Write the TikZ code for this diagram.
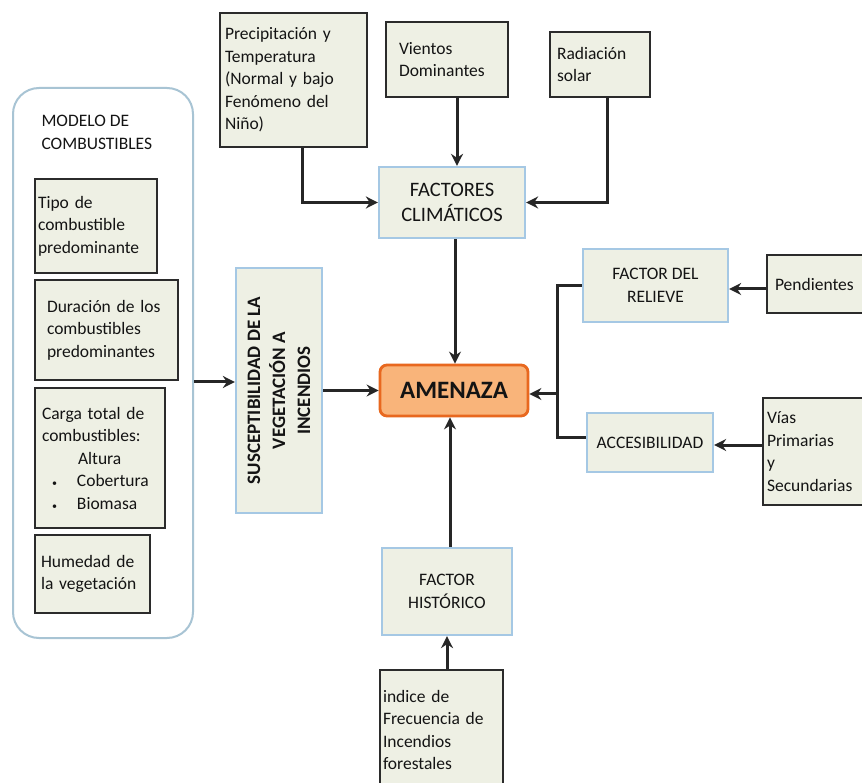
\documentclass[tikz,border=0pt]{standalone}
\usepackage{fontspec}
\setmainfont{Carlito}
\usetikzlibrary{arrows.meta}
\definecolor{leaffill}{HTML}{EEF0E4}
\definecolor{leafdraw}{HTML}{2B2B2B}
\definecolor{factdraw}{HTML}{A5C8E4}
\definecolor{amenfill}{HTML}{F9B47A}
\definecolor{amendraw}{HTML}{E8681F}
\definecolor{modeldraw}{HTML}{A8C4D4}
\definecolor{arrcol}{HTML}{262626}
\definecolor{txt}{HTML}{141414}
\tikzset{
  basefont/.style={font=\fontsize{17.5}{22.5}\selectfont, text=txt},
  leaf/.style={basefont, draw=leafdraw, fill=leaffill, line width=2.8pt, align=left, inner ysep=2pt},
  fact/.style={basefont, draw=factdraw, fill=leaffill, line width=2.2pt, align=center},
  arr/.style={draw=arrcol, line width=3pt, -{Stealth[length=12pt,width=12pt]}},
  conn/.style={draw=arrcol, line width=3pt}
}
\begin{document}
\begin{tikzpicture}[x=1pt,y=-1pt]
\useasboundingbox (0,0) rectangle (862,783);
\clip (0,0) rectangle (862,783);
\fill[white] (0,0) rectangle (862,783);

% Modelo de combustibles
\node[draw=modeldraw, line width=2pt, rounded corners=26pt, fill=white,
      minimum width=180, minimum height=550] (modelo) at (103,363) {};
\node[basefont, align=left, anchor=north west] (modtxt) at (38,112) {MODELO DE\\COMBUSTIBLES};
\node[leaf, inner xsep=3pt, text width=116, minimum height=94] (tipo) at (96,226)
  {Tipo de\\combustible\\predominante};
\node[leaf, inner xsep=12pt, text width=119, minimum height=100] (dur) at (106.5,330)
  {Duración de los\\combustibles\\predominantes};
\node[leaf, inner xsep=7pt, text width=116, minimum height=140] (carga) at (100,458)
  {Carga total de\\combustibles:\\\hspace*{36pt}Altura\\\hspace*{10pt}{\fontsize{10}{10}\selectfont•}\hspace*{20pt}Cobertura\\\hspace*{10pt}{\fontsize{10}{10}\selectfont•}\hspace*{20pt}Biomasa};
\node[leaf, inner xsep=6pt, text width=103, minimum height=78] (hum) at (92.5,574)
  {Humedad de\\la vegetación\\[6pt]};

% Susceptibilidad
\node[fact, minimum width=86, minimum height=245] (sus) at (279,390.5) {};
\node[font=\fontsize{19}{25}\selectfont\bfseries, text=txt, align=center, rotate=90] (sustxt) at (sus.center)
  {SUSCEPTIBILIDAD DE LA\\VEGETACIÓN A\\INCENDIOS};

% Amenaza
\node[draw=amendraw, fill=amenfill, line width=2.8pt, rounded corners=7pt,
      minimum width=148, minimum height=51, text=txt,
      font=\fontsize{25}{30}\selectfont\bfseries] (amen) at (454,390.5) {AMENAZA};

% Climatic factors
\node[leaf, inner xsep=5pt, text width=137, minimum height=134] (prec) at (293.5,80)
  {Precipitación y\\Temperatura\\(Normal y bajo\\Fenómeno del\\Niño)};
\node[leaf, inner xsep=13pt, text width=96, minimum height=75] (vien) at (447,59.5)
  {Vientos\\Dominantes};
\node[leaf, inner xsep=7pt, text width=86, minimum height=65] (rad) at (600,64.5)
  {Radiación\\solar\\[4pt]};
\node[fact, minimum width=146, minimum height=71, font=\fontsize{20.5}{25}\selectfont] (fact) at (452,202.5)
  {FACTORES\\CLIMÁTICOS};

% Relief / access
\node[fact, minimum width=145, minimum height=73] (rel) at (655.5,285.5)
  {FACTOR DEL\\RELIEVE};
\node[leaf, inner xsep=8pt, text width=97, minimum height=58] (pend) at (823.5,284)
  {Pendientes};
\node[fact, minimum width=126, minimum height=59] (acc) at (650,442.5)
  {ACCESIBILIDAD};
\node[leaf, inner xsep=4pt, text width=109, minimum height=107] (vias) at (821.5,451.5)
  {Vías\\Primarias\\y\\Secundarias};

% Historic
\node[fact, minimum width=130, minimum height=87] (hist) at (447,591.5)
  {FACTOR\\HISTÓRICO};
\node[leaf, inner xsep=3pt, text width=117, minimum height=120] (ind) at (441.5,730)
  {indice de\\Frecuencia de\\Incendios\\forestales};

% Connectors
\draw[arr] (modelo.east |- 0,382) -- (sus.west |- 0,382);
\draw[arr] (sus.east |- amen.west) -- (amen.west);
\draw[arr] ([xshift=8.5pt]prec.south) |- (fact.west);
\draw[arr] ([xshift=10pt]vien.south) -- ([xshift=10pt]vien.south |- fact.north);
\draw[arr] ([xshift=7pt]rad.south) |- (fact.east);
\draw[arr] ([xshift=3pt]fact.south) -- ([xshift=3pt]fact.south |- amen.north);
\coordinate (jx) at (557,394);
\draw[conn] (rel.west) -- (rel.west -| jx) -- ([yshift=5pt]acc.west -| jx) -- ([yshift=5pt]acc.west);
\draw[arr] (jx) -- (jx -| amen.east);
\draw[arr] (pend.west |- 0,289) -- (rel.east |- 0,289);
\draw[arr] (vias.west |- 0,445) -- (acc.east |- 0,445);
\draw[arr] ([xshift=3pt]hist.north) -- ([xshift=3pt]hist.north |- amen.south);
\draw[arr] (hist.south |- ind.north) -- (hist.south);
\end{tikzpicture}
\end{document}
